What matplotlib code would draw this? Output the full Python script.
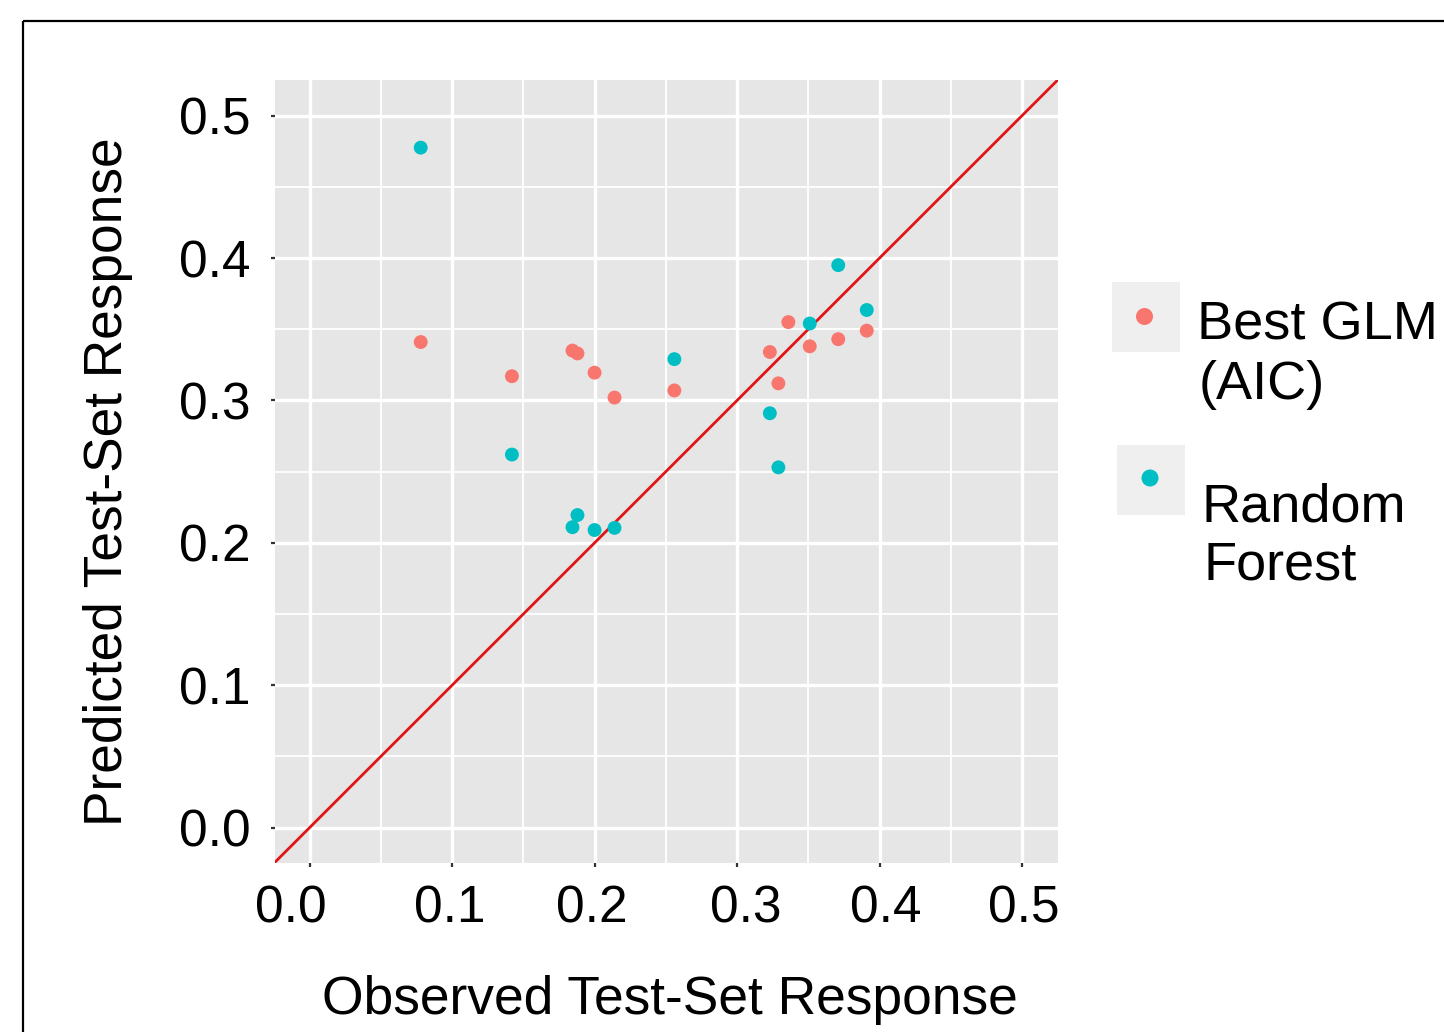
import matplotlib
matplotlib.use("Agg")
import matplotlib.pyplot as plt
from matplotlib.patches import Rectangle
from matplotlib.ticker import MultipleLocator, FormatStrFormatter
from matplotlib.transforms import ScaledTranslation

plt.rcParams['font.family'] = ['Liberation Sans', 'DejaVu Sans']

# ---- data ----
glm_observed = [0.078, 0.142, 0.1845, 0.188, 0.200, 0.214, 0.256, 0.323, 0.329, 0.336, 0.351, 0.371, 0.391]
glm_predicted = [0.341, 0.317, 0.335, 0.333, 0.3195, 0.302, 0.307, 0.334, 0.312, 0.355, 0.338, 0.343, 0.349]

rf_observed = [0.078, 0.142, 0.1845, 0.188, 0.200, 0.214, 0.256, 0.323, 0.329, 0.351, 0.371, 0.391]
rf_predicted = [0.4775, 0.262, 0.211, 0.2195, 0.209, 0.2105, 0.329, 0.291, 0.253, 0.354, 0.395, 0.3635]

series_names = ["Best GLM\n(AIC)", "Random\nForest"]
series_colors = ["#F8766D", "#00BFC4"]
tick_values = [0.0, 0.1, 0.2, 0.3, 0.4, 0.5]
x_label = "Observed Test-Set Response"
y_label = "Predicted Test-Set Response"

W, H = 1444, 1032
fig = plt.figure(figsize=(W / 100, H / 100), dpi=100)

# main panel (pixel box: x 274.5..1057.7, y 80..862.7)
l, r, t, b = 274.5, 1057.7, 80, 862.7
ax = fig.add_axes([l / W, 1 - b / H, (r - l) / W, (b - t) / H])
ax.set_facecolor("#E6E6E6")
for s in ax.spines.values():
    s.set_visible(False)

lo, hi = -0.0246, 0.525
ax.set_xlim(lo, hi)
ax.set_ylim(lo, hi)

ax.xaxis.set_minor_locator(MultipleLocator(0.05))
ax.yaxis.set_minor_locator(MultipleLocator(0.05))
ax.set_xticks(tick_values)
ax.set_yticks(tick_values)
ax.xaxis.set_major_formatter(FormatStrFormatter("%.1f"))
ax.yaxis.set_major_formatter(FormatStrFormatter("%.1f"))
ax.grid(which="major", color="white", linewidth=2.4)
ax.grid(which="minor", color="white", linewidth=1.3)
ax.set_axisbelow(True)
ax.tick_params(which="major", length=3, width=1.6, color="#333333",
               labelsize=37, labelcolor="black")
ax.tick_params(axis="x", pad=13)
ax.tick_params(axis="y", pad=14)
ax.tick_params(which="minor", length=0)

# small horizontal shifts of the x tick labels as in the reference (pixels)
x_label_shift = [-19, -2, -3, 9, 6, 2]
for lab, dx in zip(ax.get_xticklabels(), x_label_shift):
    lab.set_transform(lab.get_transform() +
                      ScaledTranslation(dx / 100, 0, fig.dpi_scale_trans))

# identity line
ax.axline((0, 0), slope=1, color="#E01515", linewidth=2.0, zorder=2)

ax.scatter(glm_observed, glm_predicted, s=100, color=series_colors[0],
           edgecolors="none", zorder=3)
ax.scatter(rf_observed, rf_predicted, s=100, color=series_colors[1],
           edgecolors="none", zorder=4)

ax.set_xlabel(x_label, fontsize=38.4)
ax.set_ylabel(y_label, fontsize=38.3)
ax.xaxis.set_label_coords((670 - l) / (r - l), -(975 - b) / (b - t))
ax.yaxis.set_label_coords(-(l - 133) / (r - l), 1 - (481.7 - t) / (b - t))

# overlay in pixel coordinates for the frame and legend
ov = fig.add_axes([0, 0, 1, 1], facecolor="none")
ov.set_xlim(0, W)
ov.set_ylim(H, 0)
ov.axis("off")
ov.add_patch(Rectangle((22.5, 20.5), 1500, 1100, fill=False,
                       edgecolor="black", linewidth=1.6))

key_boxes = [(1112, 282), (1117, 445)]
dot_pos = [(1144.5, 316.5), (1150, 478)]
text_lines = [[("Best GLM", 1197, 340), ("(AIC)", 1199, 399)],
              [("Random", 1202, 521), ("Forest", 1204, 580)]]
for i, name in enumerate(series_names):
    bx, by = key_boxes[i]
    ov.add_patch(Rectangle((bx, by), 68, 70, facecolor="#EFEFEF",
                           edgecolor="none"))
    ov.scatter([dot_pos[i][0]], [dot_pos[i][1]], s=150,
               color=series_colors[i], edgecolors="none")
    for (txt, tx, ty), part in zip(text_lines[i], name.split("\n")):
        ov.text(tx, ty, part, fontsize=39, ha="left", va="baseline")

fig.savefig("out.png", dpi=100)
